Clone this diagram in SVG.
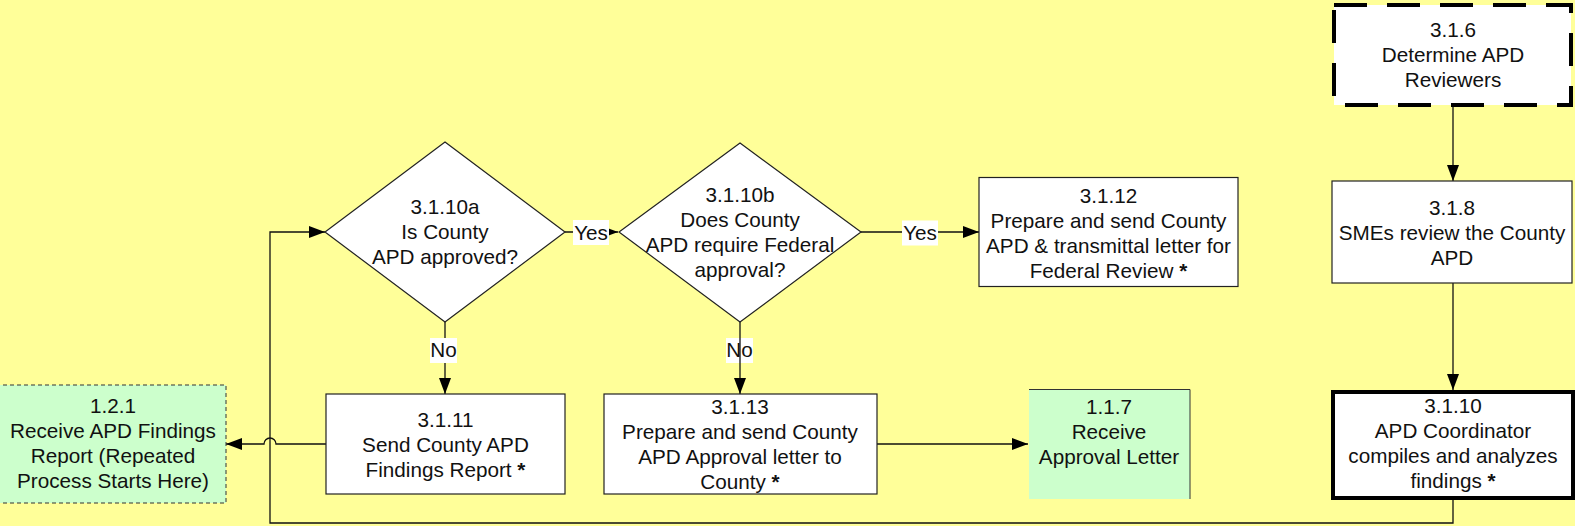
<svg xmlns="http://www.w3.org/2000/svg" width="1575" height="526" viewBox="0 0 1575 526">
<defs>
<style>
text{font-family:"Liberation Sans",Arial,sans-serif;font-size:20.7px;fill:#111;text-anchor:middle}
.b{font-weight:bold}
.box{fill:#fff;stroke:#222;stroke-width:1.2}
.dia{fill:#fff;stroke:#222;stroke-width:1.2}
.green{fill:#ccffcc}
.ln{fill:none;stroke:#111;stroke-width:1.3}
.lbl{fill:#fff}
</style>
<marker id="ah" markerUnits="userSpaceOnUse" markerWidth="17" markerHeight="13" refX="16" refY="6" orient="auto">
<path d="M0,0 L16,6 L0,12 z" fill="#000"/>
</marker>
</defs>
<rect x="0" y="0" width="1575" height="526" fill="#ffff99"/>

<g id="connectors">
<path class="ln" d="M1453,107 V181" marker-end="url(#ah)"/>
<path class="ln" d="M1453,283 V390" marker-end="url(#ah)"/>
<path class="ln" d="M1453,500 V523 H270 V232 H325" marker-end="url(#ah)"/>
<path class="ln" d="M326,444 H276 A6,6 0 0 0 264,444 H226" marker-end="url(#ah)"/>
<path class="ln" d="M565,232 H618" marker-end="url(#ah)"/>
<rect class="lbl" x="573" y="220" width="36" height="25"/>
<text x="591" y="240">Yes</text>
<path class="ln" d="M861,232 H979" marker-end="url(#ah)"/>
<rect class="lbl" x="902" y="220.5" width="36" height="25"/>
<text x="920" y="240">Yes</text>
<path class="ln" d="M445,322 V394" marker-end="url(#ah)"/>
<rect class="lbl" x="430" y="338" width="27" height="25"/>
<text x="443.5" y="357">No</text>
<rect class="lbl" x="726" y="338" width="27" height="25"/>
<text x="739.5" y="357">No</text>
<path class="ln" d="M740,322 V394" marker-end="url(#ah)"/>
<path class="ln" d="M877,444 H1028" marker-end="url(#ah)"/>
</g>

<g id="n121">
<rect x="-4" y="385" width="230" height="118" class="green" stroke="#333" stroke-width="1" stroke-dasharray="4 3"/>
<text x="113" y="413">1.2.1</text>
<text x="113" y="438">Receive APD Findings</text>
<text x="113" y="463">Report (Repeated</text>
<text x="113" y="488">Process Starts Here)</text>
</g>

<g id="n316">
<rect x="1334" y="5" width="237" height="100" fill="#fff" stroke="#000" stroke-width="4" stroke-dasharray="33 20"/>
<text x="1453" y="36.5">3.1.6</text>
<text x="1453" y="62">Determine APD</text>
<text x="1453" y="87">Reviewers</text>
</g>

<g id="n318">
<rect class="box" x="1332" y="181" width="240" height="102"/>
<text x="1452" y="214.5">3.1.8</text>
<text x="1452" y="239.5">SMEs review the County</text>
<text x="1452" y="264.5">APD</text>
</g>

<g id="n3110">
<rect x="1333" y="392" width="240" height="106" fill="#fff" stroke="#000" stroke-width="4"/>
<text x="1453" y="413">3.1.10</text>
<text x="1453" y="438">APD Coordinator</text>
<text x="1453" y="463">compiles and analyzes</text>
<text x="1453" y="488">findings <tspan class="b">*</tspan></text>
</g>

<g id="n3110a">
<polygon class="dia" points="445,142 565,232 445,322 325,232"/>
<text x="445" y="214">3.1.10a</text>
<text x="445" y="239">Is County</text>
<text x="445" y="264">APD approved?</text>
</g>

<g id="n3110b">
<polygon class="dia" points="740,143 861,232 740,322 619,232"/>
<text x="740" y="202">3.1.10b</text>
<text x="740" y="227">Does County</text>
<text x="740" y="252">APD require Federal</text>
<text x="740" y="277">approval?</text>
</g>

<g id="n3112">
<rect class="box" x="979" y="177.5" width="259" height="109"/>
<text x="1108.5" y="202.5">3.1.12</text>
<text x="1108.5" y="227.5">Prepare and send County</text>
<text x="1108.5" y="252.5">APD &amp; transmittal letter for</text>
<text x="1108.5" y="277.5">Federal Review <tspan class="b">*</tspan></text>
</g>

<g id="n3111">
<rect class="box" x="326" y="394" width="239" height="100"/>
<text x="445.5" y="426.5">3.1.11</text>
<text x="445.5" y="451.5">Send County APD</text>
<text x="445.5" y="476.5">Findings Report <tspan class="b">*</tspan></text>
</g>

<g id="n3113">
<rect class="box" x="604" y="394" width="273" height="100"/>
<text x="740" y="414">3.1.13</text>
<text x="740" y="439">Prepare and send County</text>
<text x="740" y="464">APD Approval letter to</text>
<text x="740" y="489">County <tspan class="b">*</tspan></text>
</g>

<g id="n117">
<rect x="1029" y="389" width="161" height="110" class="green"/>
<path d="M1029,389.5 H1190 V499" fill="none" stroke="#333" stroke-width="1"/>
<text x="1109" y="414">1.1.7</text>
<text x="1109" y="439">Receive</text>
<text x="1109" y="464">Approval Letter</text>
</g>
</svg>
